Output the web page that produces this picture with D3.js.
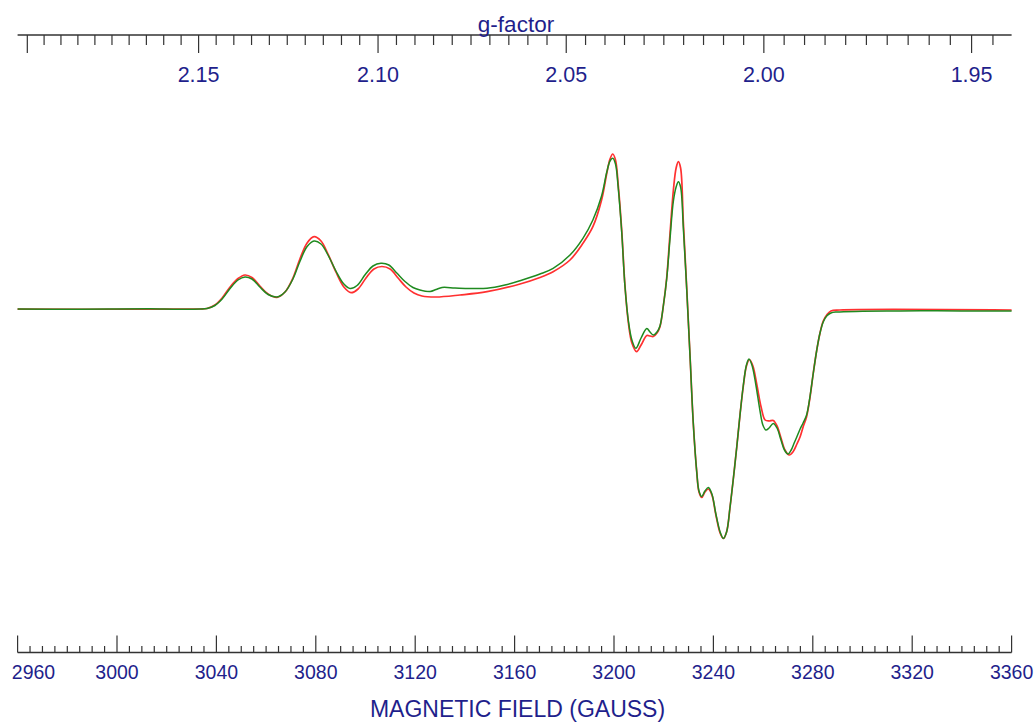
<!DOCTYPE html>
<html>
<head>
<meta charset="utf-8">
<script src="https://cdn.jsdelivr.net/npm/d3@7"></script>
<style>
  html, body { margin: 0; padding: 0; background: #ffffff; }
  svg { display: block; }
  text { font-family: "Liberation Sans", Arial, sans-serif; fill: #1f1f8c; }
</style>
</head>
<body>
<svg id="chart" width="1036" height="723"></svg>
<script>
// EPR spectrum: simulated (red) and experimental (green) first-derivative traces
// Magnetic field in gauss, signal in arbitrary units (baseline = 0)

const simField = [2960, 3013, 3033.4, 3036.2, 3039.4, 3042.3, 3045.5, 3048.7, 3051.5, 3054.3,
  3057.5, 3060.8, 3064.4, 3067.6, 3070.8, 3073.6, 3076.5, 3079.3, 3082.1, 3084.9,
  3088.1, 3091.3, 3094.2, 3097.0, 3100.2, 3103.4, 3106.6, 3109.9, 3113.1, 3116.3,
  3119.5, 3122.7, 3128.4, 3138.0, 3148.9, 3162.2, 3170.2, 3175.5, 3182.3, 3187.5,
  3191.5, 3195.0, 3197.1, 3198.4, 3199.5, 3200.6, 3201.7, 3203.1, 3204.4, 3205.8,
  3207.2, 3209.1, 3210.9, 3213.2, 3214.5, 3215.8, 3217.3, 3218.5, 3219.9, 3221.2,
  3222.5, 3223.9, 3225.0, 3225.9, 3226.8, 3227.9, 3229.3, 3230.6, 3231.9, 3233.3,
  3234.2, 3235.3, 3236.6, 3238.0, 3239.4, 3241.0, 3242.7, 3244.0, 3245.3, 3246.7,
  3248.1, 3249.4, 3250.7, 3252.0, 3253.3, 3254.5, 3255.9, 3257.5, 3259.2, 3260.8,
  3262.4, 3264.1, 3265.6, 3267.2, 3268.8, 3270.5, 3272.0, 3273.6, 3274.9, 3276.1,
  3277.5, 3278.9, 3280.2, 3281.6, 3282.9, 3284.2, 3285.6, 3287.3, 3290.9, 3360];

const simSignal = [0.3, 0.3, 0.5, 1.0, 4.5, 11.5, 22.5, 31, 34.5, 32,
  23.5, 15.5, 12.2, 17.5, 31.5, 50.5, 66.5, 72.8, 68.5, 55.5,
  37.5, 22.5, 16.8, 20.5, 31.5, 40.5, 43, 40.5, 31.5, 22.5,
  16.5, 13.5, 12.5, 14.5, 17.8, 25.5, 32, 37.8, 49.5, 66.2,
  82.8, 109.5, 136.2, 150.5, 155.5, 149.5, 124.5, 79.5, 24.5, -13.5,
  -33.5, -42.2, -35.5, -26, -26.5, -27, -23.5, -17.2, 4.5, 31.5,
  74.5, 119.5, 141.5, 147.8, 141.5, 87.5, 19.5, -46.5, -113.5, -162.5,
  -182.5, -188, -182.5, -179.5, -185.5, -205.5, -223.5, -229, -222.5, -197.5,
  -167.5, -137.5, -105.5, -77.5, -56.5, -50, -56.5, -75.5, -97.5, -110.5,
  -111.5, -111, -116.5, -128.5, -140.5, -145.5, -142.5, -134.5, -127.2, -117.5,
  -107.2, -87.5, -63.5, -40.5, -23.5, -11.5, -5.5, -1.5, -0.5, -0.5];

const expField = [2960, 2985, 3000, 3013.3, 3025, 3033.4, 3036.2, 3039.4, 3042.3, 3045.5,
  3048.7, 3051.5, 3054.3, 3057.5, 3060.8, 3064.4, 3067.6, 3070.8, 3073.6, 3076.5,
  3079.3, 3082.1, 3084.9, 3088.1, 3091.3, 3093.8, 3096.6, 3099.9, 3103.0, 3106.2,
  3109.4, 3112.6, 3115.9, 3119.1, 3121.9, 3126.0, 3128.4, 3130.8, 3136.0, 3142.0,
  3148.9, 3156.1, 3162.2, 3170.2, 3175.5, 3182.3, 3187.5, 3191.5, 3195.0, 3197.1,
  3198.4, 3199.5, 3200.6, 3201.7, 3203.1, 3204.4, 3205.8, 3207.2, 3208.8, 3210.9,
  3213.2, 3214.5, 3215.8, 3217.3, 3218.5, 3219.9, 3221.2, 3222.5, 3223.9, 3225.0,
  3225.9, 3226.8, 3227.9, 3229.3, 3230.6, 3231.9, 3233.3, 3234.2, 3235.3, 3236.6,
  3238.0, 3239.4, 3241.0, 3242.7, 3244.0, 3245.3, 3246.7, 3248.1, 3249.4, 3250.7,
  3252.0, 3253.3, 3254.3, 3255.5, 3257.1, 3258.7, 3259.9, 3261.1, 3262.4, 3264.1,
  3265.6, 3267.2, 3268.6, 3270.0, 3271.3, 3272.5, 3273.6, 3274.9, 3276.1, 3277.5,
  3278.9, 3280.2, 3281.6, 3282.9, 3284.2, 3285.6, 3287.3, 3289.7, 3300, 3315.1,
  3330, 3345, 3360];

const expSignal = [0.5, 0.2, 0.6, 0.7, 0.3, 0.5, 1, 4, 10.5, 21,
  29.5, 32.5, 30.5, 22.5, 15, 12.5, 17.5, 30.5, 48, 63,
  68.5, 65.5, 54.5, 38.5, 25.5, 21, 24, 35, 43.5, 46.2,
  44.5, 36.5, 28, 22, 19.5, 18, 20, 22, 21.5, 21,
  21.2, 24.5, 28.8, 35.5, 41.2, 54.5, 71.2, 89.5, 113.5, 137.5,
  148.5, 151.2, 145.5, 121.5, 77.5, 23.5, -11.5, -30.5, -38.8, -28.5,
  -19, -22.5, -25.5, -22.5, -16.5, 4.5, 30.5, 69.5, 108.5, 122.5,
  127.8, 122.5, 81.5, 18.5, -46.5, -113.5, -162.5, -181.5, -187, -181.5,
  -178, -184.5, -204.5, -222.5, -229, -222.5, -197.5, -167.5, -137.5, -105.5,
  -76.5, -55.5, -49.5, -55.5, -75.5, -100.5, -115.5, -120.5, -118.5, -114,
  -118.5, -130.5, -140.5, -144.5, -140.5, -133.5, -127.2, -119.5, -113.5, -105.5,
  -86.5, -63.5, -40.5, -23.5, -12.5, -6.5, -3.5, -2.5, -1.8, -1.5,
  -1.2, -1.6, -1.5];

// Axis settings
const fieldDomain = [2960, 3360];
const fieldTicks = [2960, 3000, 3040, 3080, 3120, 3160, 3200, 3240, 3280, 3320, 3360];
const gTickLabels = ["2.15", "2.10", "2.05", "2.00", "1.95"];
// Microwave frequency expressed as g·B product (gauss)
const gTimesField = 6520.6;

const svg = d3.select("#chart");

const x = d3.scaleLinear().domain(fieldDomain).range([17.6, 1011.6]);
const y = d3.scaleLinear().domain([-250, 170]).range([559.5, 139.5]);

const axisColor = "#333333";

// ---- bottom field axis ----
const bottomY = 652.5;
const gb = svg.append("g");
gb.append("line")
  .attr("x1", x(fieldDomain[0])).attr("x2", x(fieldDomain[1]))
  .attr("y1", bottomY).attr("y2", bottomY)
  .attr("stroke", axisColor).attr("stroke-width", 1.3);

const minorField = d3.range(fieldDomain[0], fieldDomain[1] + 0.001, 5);
gb.selectAll("line.tick").data(minorField).join("line")
  .attr("class", "tick")
  .attr("x1", d => x(d)).attr("x2", d => x(d))
  .attr("y1", bottomY)
  .attr("y2", d => (d % 40 === 0) ? bottomY - 17 : bottomY - 6.5)
  .attr("stroke", axisColor).attr("stroke-width", 1.2);

gb.selectAll("text.lab").data(fieldTicks).join("text")
  .attr("class", "lab")
  .attr("x", d => Math.max(x(d), 12 + 21.5))
  .attr("y", 678.5)
  .attr("text-anchor", "middle")
  .style("font-size", "19.5px")
  .text(d => d);

svg.append("text")
  .attr("x", 517.5).attr("y", 717)
  .attr("text-anchor", "middle")
  .style("font-size", "23px")
  .text("MAGNETIC FIELD (GAUSS)");

// ---- top g-factor axis ----
const topY = 35;
const gt = svg.append("g");
gt.append("line")
  .attr("x1", x(fieldDomain[0])).attr("x2", x(fieldDomain[1]))
  .attr("y1", topY).attr("y2", topY)
  .attr("stroke", axisColor).attr("stroke-width", 1.3);

const gMax = gTimesField / fieldDomain[0];
const gMin = gTimesField / fieldDomain[1];
const gMinor = d3.range(Math.ceil(gMin * 200), Math.floor(gMax * 200) + 1).map(k => k / 200);
gt.selectAll("line.tick").data(gMinor).join("line")
  .attr("class", "tick")
  .attr("x1", d => x(gTimesField / d)).attr("x2", d => x(gTimesField / d))
  .attr("y1", topY)
  .attr("y2", d => (Math.round(d * 200) % 10 === 0) ? topY + 18 : topY + 10)
  .attr("stroke", axisColor).attr("stroke-width", 1.2);

gt.selectAll("text.lab").data(gTickLabels).join("text")
  .attr("class", "lab")
  .attr("x", d => x(gTimesField / +d))
  .attr("y", 81.5)
  .attr("text-anchor", "middle")
  .style("font-size", "21.5px")
  .text(d => d);

svg.append("text")
  .attr("x", 516).attr("y", 31.5)
  .attr("text-anchor", "middle")
  .style("font-size", "22.5px")
  .text("g-factor");

// ---- spectra ----
const line = d3.line()
  .x(d => x(d[0]))
  .y(d => y(d[1]))
  .curve(d3.curveCatmullRom.alpha(0.5));

const simData = simField.map((f, i) => [f, simSignal[i]]);
const expData = expField.map((f, i) => [f, expSignal[i]]);

svg.append("path")
  .datum(simData)
  .attr("d", line)
  .attr("fill", "none")
  .attr("stroke", "#ff3030")
  .attr("stroke-width", 1.7);

svg.append("path")
  .datum(expData)
  .attr("d", line)
  .attr("fill", "none")
  .attr("stroke", "#1f8a1f")
  .attr("stroke-width", 1.5);
</script>
</body>
</html>
